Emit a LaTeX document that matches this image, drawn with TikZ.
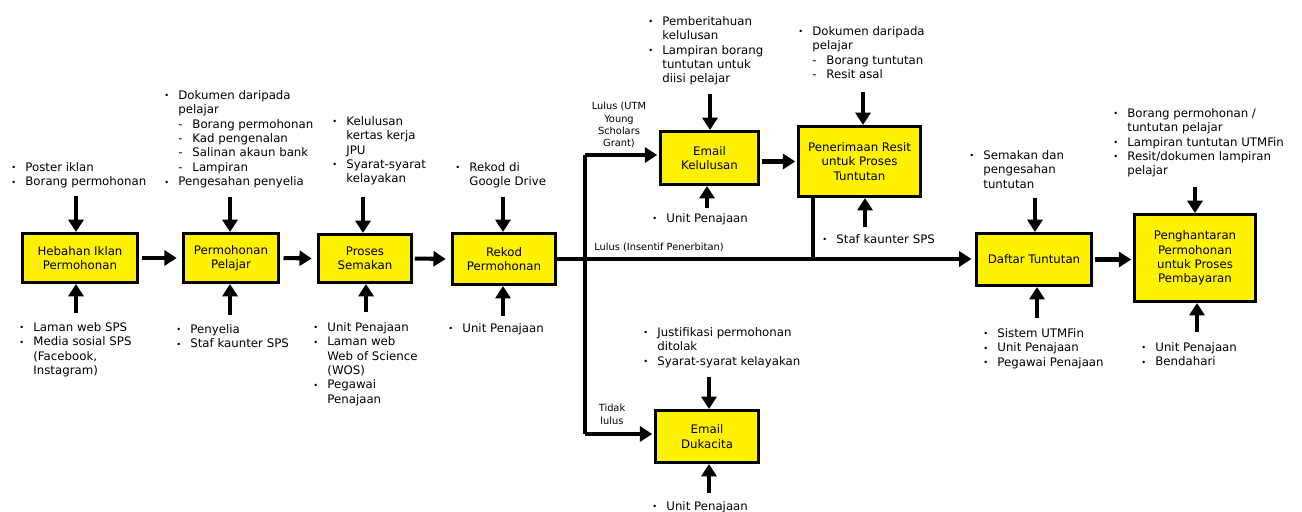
\documentclass[tikz,border=0pt]{standalone}
\usepackage{fontspec}
\setmainfont{DejaVu Sans}
\usetikzlibrary{arrows.meta,calc}
\newcommand{\lbul}{\makebox[8pt][l]{\raisebox{.1ex}{\scalebox{.7}{•}}}}
\newcommand{\lcont}{\hspace*{8pt}}
\newcommand{\ldash}{\hspace*{8pt}\makebox[8pt][l]{-}}
\newcommand{\lblfont}{\fontsize{6.7}{8.2}\selectfont}
\newcommand{\condfont}{\fontsize{5.6}{7}\selectfont}
\tikzset{
  proc/.style={draw=black,line width=1.7pt,fill=yellow,align=center,font=\lblfont,inner sep=1pt},
  note/.style={anchor=north west,align=left,inner sep=0pt,font=\lblfont},
  cond/.style={align=center,inner sep=0pt,font=\condfont},
  flow/.style={line width=2.3pt,-{Triangle[length=7pt,width=8.5pt]}},
  wire/.style={line width=2.3pt}
}

\begin{document}
\begin{tikzpicture}[x=0.02cm,y=-0.02cm]
			%%%%% START %%%%%
			\fill[white] (0,0) rectangle (1302,511);
			\useasboundingbox (0,0) rectangle (1302,511);
			
			\node[proc,minimum width=2.30cm,minimum height=0.98cm] (b1) at (80,258) {Hebahan Iklan\\Permohonan};
			\node[proc,minimum width=1.90cm,minimum height=0.98cm] (b2) at (231,258) {Permohonan\\Pelajar};
			\node[proc,minimum width=1.86cm,minimum height=0.96cm] (b3) at (365,258.5) {Proses\\Semakan};
			\node[proc,minimum width=2.06cm,minimum height=1.02cm] (b4) at (504,259) {Rekod\\Permohonan};
			\node[proc,minimum width=1.96cm,minimum height=1.06cm] (b5) at (709.5,158) {Email\\Kelulusan};
			\node[proc,minimum width=2.44cm,minimum height=1.40cm] (b6) at (859.5,161.5) {Penerimaan Resit\\untuk Proses\\Tuntutan};
			\node[proc,minimum width=2.06cm,minimum height=1.04cm] (b7) at (707,436.5) {Email\\Dukacita};
			\node[proc,minimum width=2.30cm,minimum height=1.04cm] (b8) at (1034,259.5) {Daftar Tuntutan};
			\node[proc,minimum width=2.42cm,minimum height=1.74cm] (b9) at (1195,258) {Penghantaran\\Permohonan\\untuk Proses\\Pembayaran};
			
			% inputs above / resources below
			\node[note] (n1t) at (11,162) {\lbul Poster iklan\\\lbul Borang permohonan};
			\node[note] (n1b) at (19,322) {\lbul Laman web SPS\\\lbul Media sosial SPS\\\lcont (Facebook,\\\lcont Instagram)};
			\node[note] (n2t) at (164,90) {\lbul Dokumen daripada\\\lcont pelajar\\\ldash Borang permohonan\\\ldash Kad pengenalan\\\ldash Salinan akaun bank\\\ldash Lampiran\\\lbul Pengesahan penyelia};
			\node[note] (n2b) at (176,324) {\lbul Penyelia\\\lbul Staf kaunter SPS};
			\node[note] (n3t) at (332,116) {\lbul Kelulusan\\\lcont kertas kerja\\\lcont JPU\\\lbul Syarat-syarat\\\lcont kelayakan};
			\node[note] (n3b) at (313,322) {\lbul Unit Penajaan\\\lbul Laman web\\\lcont Web of Science\\\lcont (WOS)\\\lbul Pegawai\\\lcont Penajaan};
			\node[note] (n4t) at (455,162) {\lbul Rekod di\\\lcont Google Drive};
			\node[note] (n4b) at (448,323) {\lbul Unit Penajaan};
			\node[note] (n5t) at (648,16) {\lbul Pemberitahuan\\\lcont kelulusan\\\lbul Lampiran borang\\\lcont tuntutan untuk\\\lcont diisi pelajar};
			\node[note] (n5b) at (652,213) {\lbul Unit Penajaan};
			\node[note] (n6t) at (798,26) {\lbul Dokumen daripada\\\lcont pelajar\\\ldash Borang tuntutan\\\ldash Resit asal};
			\node[note] (n6b) at (822,234) {\lbul Staf kaunter SPS};
			\node[note] (n7t) at (643,327) {\lbul Justifikasi permohonan\\\lcont ditolak\\\lbul Syarat-syarat kelayakan};
			\node[note] (n7b) at (652,501) {\lbul Unit Penajaan};
			\node[note] (n8t) at (969,150) {\lbul Semakan dan\\\lcont pengesahan\\\lcont tuntutan};
			\node[note] (n8b) at (983,328) {\lbul Sistem UTMFin\\\lbul Unit Penajaan\\\lbul Pegawai Penajaan};
			\node[note] (n9t) at (1113,108) {\lbul Borang permohonan /\\\lcont tuntutan pelajar\\\lbul Lampiran tuntutan UTMFin\\\lbul Resit/dokumen lampiran\\\lcont pelajar};
			\node[note] (n9b) at (1141,342) {\lbul Unit Penajaan\\\lbul Bendahari};
			
			% branch conditions
			\node[cond,anchor=north] (c1) at (619,102) {Lulus (UTM\\Young\\Scholars\\Grant)};
			\node[cond,anchor=north west] (c2) at (594,243) {Lulus (Insentif Penerbitan)};
			\node[cond,anchor=north] (c3) at (612,404) {Tidak\\lulus};
			
			% arrow tails
			\coordinate (a1t) at (76,196);   \coordinate (a1b) at (76,313);
			\coordinate (a2t) at (230,197);  \coordinate (a2b) at (230,315);
			\coordinate (a3t) at (363,197);  \coordinate (a3b) at (366,312);
			\coordinate (a4t) at (503,197);  \coordinate (a4b) at (503,316);
			\coordinate (a5t) at (710,94);   \coordinate (a5b) at (707,208);
			\coordinate (a6t) at (863,92);   \coordinate (a6b) at (865,227);
			\coordinate (a7t) at (709,377);  \coordinate (a7b) at (709,493);
			\coordinate (a8t) at (1035,198); \coordinate (a8b) at (1037,318);
			\coordinate (a9t) at (1195,187); \coordinate (a9b) at (1197,332);
			\foreach \i in {1,...,9}{
				\draw[flow] (a\i t) -- (a\i t |- b\i.north);
				\draw[flow] (a\i b) -- (a\i b |- b\i.south);
			}
			
			\draw[flow,shorten <=2pt,shorten >=3pt] (b1.east) -- (b2.west);
			\draw[flow,shorten <=2pt,shorten >=3pt] (b2.east) -- (b3.west);
			\draw[flow,shorten <=1pt,shorten >=3pt] (b3.east) -- (b4.west);
			\draw[flow,shorten >=2pt] (b4.east) -- (b4.east -| b8.west);
			
			\coordinate (jt) at (585,155);
			\coordinate (jb) at (585,434);
			\draw[wire] (jt) -- (jb);
			\draw[flow,shorten >=1pt] (jt) -- (jt -| b5.west);
			\draw[flow,shorten >=1pt] (jb) -- (jb -| b7.west);
			
			\draw[flow,shorten <=1pt,shorten >=1pt] (b6.west -| b5.east) -- (b6.west);
			\coordinate (rj) at (813,259);
			\draw[wire] (rj |- b6.south) -- (rj);
			\draw[flow,shorten <=1pt,shorten >=1pt] (b8.east) -- (b8.east -| b9.west);
			%%%%% END %%%%%
\end{tikzpicture}
\end{document}
